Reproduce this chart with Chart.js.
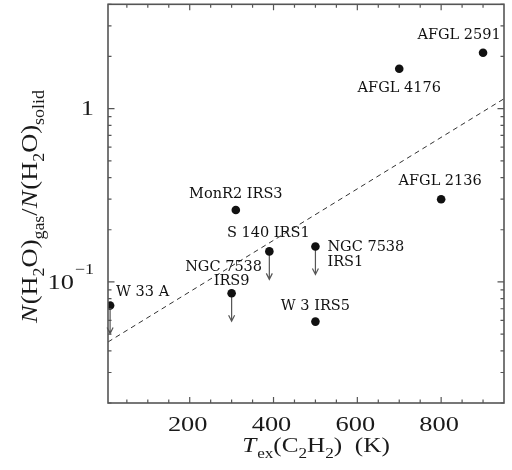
<!DOCTYPE html>
<html><head><meta charset="utf-8">
<script src="https://cdn.jsdelivr.net/npm/chart.js@4.4.0/dist/chart.umd.min.js"></script>
<style>html,body{margin:0;padding:0;background:#fff;overflow:hidden}</style>
</head><body>
<canvas id="c" width="512" height="470"></canvas>
<script>
// ---- data ----
const sources = ['W 33 A', 'NGC 7538\nIRS9', 'MonR2 IRS3', 'S 140 IRS1', 'NGC 7538\nIRS1', 'W 3 IRS5', 'AFGL 4176', 'AFGL 2136', 'AFGL 2591'];
const temps = [10, 300, 310, 390, 500, 500, 700, 800, 900];
const ratios = [0.073, 0.086, 0.26, 0.15, 0.16, 0.059, 1.7, 0.30, 2.1];
const upperLimit = [true, true, false, true, true, false, false, false, false];
const fitX = [5, 950];
const fitY = [0.045, 1.14];
const xTickValues = [200, 400, 600, 800];
const xTickLabels = ['200', '400', '600', '800'];
const yTickValues = [0.1, 1];
const yTickBase = ['10', '1'];
const yTickExp = ['\u22121', ''];

// ---- layout (label placement relative to points: per line [dx, dy, align]) ----
const labelLayout = [
  [[6, -13, 'left']],
  [[-8, -26.5, 'center'], [0, -11.7, 'center']],
  [[0, -15.5, 'center']],
  [[-1, -17.7, 'center']],
  [[12, 0.3, 'left'], [12, 16, 'left']],
  [[0, -15.3, 'center']],
  [[0, 19.4, 'center']],
  [[-1, -18, 'center']],
  [[-24, -17.6, 'center']]
];

const SERIF = '"Liberation Serif", serif';
const LABEL = '"DejaVu Serif", serif';
const FRAME = '#555';

function drawRich(ctx, segs, size, x, y, align, sx) {
  const fontOf = s => (s.it ? 'italic ' : '') + (s.sub ? size * 0.68 : size) + 'px ' + SERIF;
  let total = 0;
  const ws = segs.map(s => { ctx.font = fontOf(s); const w = ctx.measureText(s.t).width + (s.it ? size * 0.04 : 0); total += w; return w; });
  ctx.save();
  ctx.translate(x, y);
  ctx.scale(sx, 1);
  let cx = align === 'center' ? -total / 2 : 0;
  ctx.textAlign = 'left';
  ctx.textBaseline = 'alphabetic';
  segs.forEach((s, i) => {
    ctx.font = fontOf(s);
    ctx.fillText(s.t, cx, (s.sub ? size * 0.3 : 0));
    cx += ws[i];
  });
  ctx.restore();
}

function stretchedText(ctx, t, x, y, sx) {
  ctx.save();
  ctx.translate(x, y);
  ctx.scale(sx, 1);
  ctx.fillText(t, 0, 0);
  ctx.restore();
}

const deco = {
  id: 'deco',
  beforeDatasetsDraw(chart) {
    const ctx = chart.ctx, xs = chart.scales.x, ys = chart.scales.y;
    ctx.save();
    ctx.strokeStyle = '#555';
    ctx.lineWidth = 1.2;
    const L = 28;
    for (let i = 0; i < temps.length; i++) {
      if (!upperLimit[i]) continue;
      const px = xs.getPixelForValue(temps[i]);
      const py = ys.getPixelForValue(ratios[i]);
      ctx.beginPath();
      ctx.moveTo(px, py);
      ctx.lineTo(px, py + L);
      ctx.moveTo(px - 3, py + L - 6);
      ctx.lineTo(px, py + L);
      ctx.lineTo(px + 3, py + L - 6);
      ctx.stroke();
    }
    ctx.restore();
  },
  afterDraw(chart) {
    const ctx = chart.ctx, xs = chart.scales.x, ys = chart.scales.y;
    const a = chart.chartArea;
    ctx.save();
    ctx.strokeStyle = FRAME;
    ctx.lineWidth = 1.6;
    ctx.strokeRect(a.left, a.top, a.right - a.left, a.bottom - a.top);
    ctx.lineWidth = 1.2;
    ctx.beginPath();
    for (let v = 50; v < xs.max; v += 50) {
      const px = xs.getPixelForValue(v);
      const len = xTickValues.includes(v) ? 6 : 3.5;
      ctx.moveTo(px, a.bottom); ctx.lineTo(px, a.bottom - len);
      ctx.moveTo(px, a.top); ctx.lineTo(px, a.top + len);
    }
    for (let d = 0.01; d <= 10; d *= 10) {
      for (let k = 1; k <= 9; k++) {
        const v = k * d;
        if (v < ys.min * 0.999 || v > ys.max * 1.001) continue;
        const py = ys.getPixelForValue(v);
        const len = k === 1 ? 6.5 : 3.5;
        ctx.moveTo(a.left, py); ctx.lineTo(a.left + len, py);
        ctx.moveTo(a.right, py); ctx.lineTo(a.right - len, py);
      }
    }
    ctx.stroke();

    ctx.fillStyle = '#1a1a1a';
    ctx.font = '22px ' + SERIF;
    ctx.textAlign = 'center';
    ctx.textBaseline = 'middle';
    xTickValues.forEach((v, i) => {
      stretchedText(ctx, xTickLabels[i], xs.getPixelForValue(v) - 2, 425, 1.2);
    });
    yTickValues.forEach((v, i) => {
      const py = ys.getPixelForValue(v);
      let right = a.left - 14;
      ctx.textAlign = 'right';
      ctx.textBaseline = 'middle';
      if (yTickExp[i]) {
        ctx.font = '15px ' + SERIF;
        const w = ctx.measureText(yTickExp[i]).width * 1.2;
        stretchedText(ctx, yTickExp[i], right, py - 12, 1.2);
        right -= w + 1;
      }
      ctx.font = '22px ' + SERIF;
      stretchedText(ctx, yTickBase[i], right, py + 1, 1.2);
    });

    drawRich(ctx, [
      { t: 'T', it: true }, { t: 'ex', sub: true }, { t: '(C' }, { t: '2', sub: true },
      { t: 'H' }, { t: '2', sub: true }, { t: ')  (K)' }
    ], 21, 316, 452, 'center', 1.2);

    ctx.save();
    ctx.translate(37, 206.5);
    ctx.rotate(-Math.PI / 2);
    drawRich(ctx, [
      { t: 'N', it: true }, { t: '(H' }, { t: '2', sub: true }, { t: 'O)' }, { t: 'gas', sub: true },
      { t: '/' },
      { t: 'N', it: true }, { t: '(H' }, { t: '2', sub: true }, { t: 'O)' }, { t: 'solid', sub: true }
    ], 24, 0, 0, 'center', 1.1);
    ctx.restore();

    ctx.font = '14.5px ' + LABEL;
    ctx.fillStyle = '#111';
    ctx.textBaseline = 'middle';
    sources.forEach((name, i) => {
      const px = xs.getPixelForValue(temps[i]);
      const py = ys.getPixelForValue(ratios[i]);
      const lines = name.split('\n');
      lines.forEach((ln, j) => {
        const [dx, dy, al] = labelLayout[i][j];
        ctx.textAlign = al;
        ctx.fillText(ln, px + dx, py + dy);
      });
    });
    ctx.restore();
  }
};

new Chart(document.getElementById('c'), {
  type: 'scatter',
  data: {
    datasets: [
      {
        type: 'scatter',
        data: temps.map((t, i) => ({ x: t, y: ratios[i] })),
        pointRadius: 4.3,
        backgroundColor: '#111',
        borderWidth: 0,
        pointHoverRadius: 4.3
      },
      {
        type: 'line',
        data: fitX.map((t, i) => ({ x: t, y: fitY[i] })),
        borderColor: '#333',
        borderWidth: 1,
        borderDash: [5, 4],
        pointRadius: 0,
        fill: false
      }
    ]
  },
  options: {
    responsive: false,
    animation: false,
    devicePixelRatio: 1,
    layout: { padding: { left: 108, top: 4, right: 8, bottom: 67 } },
    plugins: { legend: { display: false }, tooltip: { enabled: false } },
    events: [],
    scales: {
      x: { type: 'linear', min: 5, max: 950, display: false },
      y: { type: 'logarithmic', min: 0.02, max: 4, display: false }
    }
  },
  plugins: [deco]
});
</script>
</body></html>
